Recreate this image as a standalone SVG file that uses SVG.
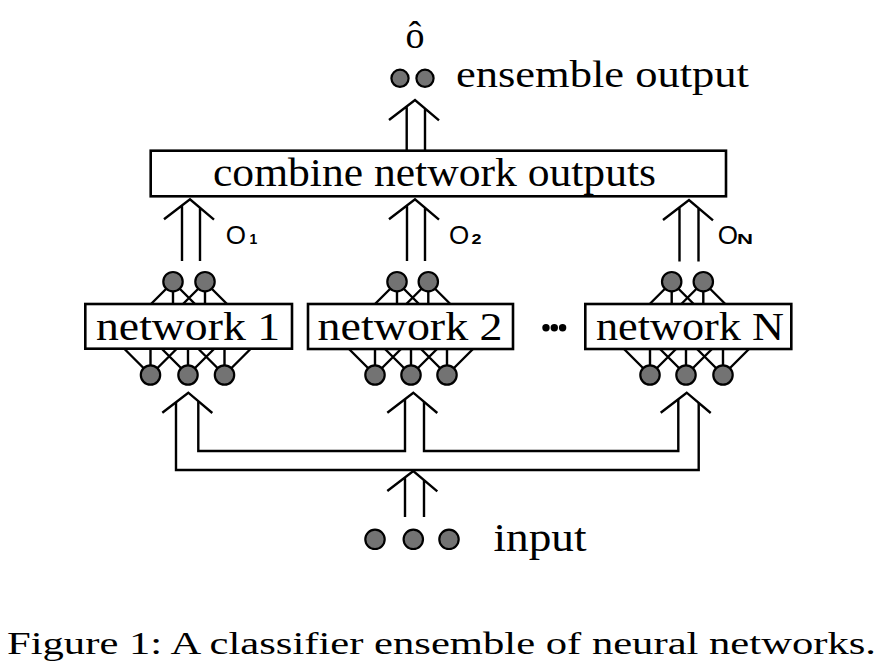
<svg xmlns="http://www.w3.org/2000/svg" width="883" height="663" viewBox="0 0 883 663">
<style>
.ln{stroke:#000;stroke-width:2.4;fill:none;stroke-linejoin:miter;stroke-linecap:butt}
.ed{stroke:#000;stroke-width:2.4;fill:none}
.box{fill:#fff;stroke:#000;stroke-width:2.6}
.nr{fill:#737373;stroke:#000;stroke-width:2.2}
.serif{font-family:"Liberation Serif","Times New Roman",serif;fill:#000}
.sans{font-family:"Liberation Sans",Arial,sans-serif;fill:#000}
.sub{font-family:"Liberation Sans",Arial,sans-serif;fill:#000;font-weight:bold;font-size:14px}
</style>
<rect width="883" height="663" fill="#fff"/>

<g id="connectors">
  <path class="ln" d="M406.7 150 V106.4 M425 150 V108.5 M389 120 L415 100 L439 120.3"/>
  <path class="ln" d="M182 261 V205.5 M200 261 V207.8 M164 219.3 L190 199.3 L214 219.6"/>
  <path class="ln" d="M407 261 V205.5 M425 261 V207.8 M389 219.3 L415 199.3 L439 219.6"/>
  <path class="ln" d="M679.5 261.5 V207.3 M698.5 261.5 V208 M663 220 L689 200 L713 220.3"/>
  <path class="ln" d="M176 402.2 V470 H698.7 V402.9"/>
  <path class="ln" d="M198.3 401.2 V451 H405 V399.1"/>
  <path class="ln" d="M424 401.8 V451 H678.3 V399.2"/>
  <path class="ln" d="M162.3 412.7 L188.3 392.7 L212.3 413"/>
  <path class="ln" d="M387.3 412.7 L413.3 392.7 L437.3 413"/>
  <path class="ln" d="M660.7 412.7 L686.7 392.7 L710.7 413"/>
  <path class="ln" d="M405 517 V477.4 M424 517 V480.1 M387.3 491 L413.3 471 L437.3 491.3"/>
</g>

<g id="ensemble-output">
  <text class="serif" x="415" y="48" font-size="38" text-anchor="middle">ô</text>
  <circle class="nr" cx="400" cy="78.3" r="8.6"/>
  <circle class="nr" cx="425" cy="78.3" r="8.6"/>
  <text class="serif" x="456" y="87" font-size="38" textLength="293" lengthAdjust="spacingAndGlyphs">ensemble output</text>
</g>

<g id="combine">
  <rect class="box" x="150.7" y="150.7" width="575.3" height="45.6"/>
  <text class="serif" x="213" y="186" font-size="39" textLength="443" lengthAdjust="spacingAndGlyphs">combine network outputs</text>
</g>

<g id="label-o1">
  <text class="sans" x="225.7" y="244" font-size="26">O</text>
  <text class="sub" x="249.5" y="244">1</text>
</g>
<g id="label-o2">
  <text class="sans" x="449" y="244" font-size="26">O</text>
  <text class="sub" x="471.5" y="244" textLength="10" lengthAdjust="spacingAndGlyphs">2</text>
</g>
<g id="label-on">
  <text class="sans" x="717.7" y="244" font-size="26">O</text>
  <text class="sub" x="737" y="244" textLength="16" lengthAdjust="spacingAndGlyphs">N</text>
</g>

<g id="network-1">
  <path class="ed" d="M173 282 L151 304 M173 282 V304 M173 282 L195 304 M205 282 L183 304 M205 282 V304 M205 282 L227 304"/>
  <path class="ed" d="M150.5 375 L124.5 349 M150.5 375 V349 M150.5 375 L176.5 349 M188 375 L162 349 M188 375 V349 M188 375 L214 349 M224.5 375 L198.5 349 M224.5 375 V349 M224.5 375 L250.5 349"/>
  <rect class="box" x="85.3" y="304" width="206.7" height="44.7"/>
  <text class="serif" x="96" y="340" font-size="41" textLength="184" lengthAdjust="spacingAndGlyphs">network 1</text>
  <circle class="nr" cx="173" cy="281.7" r="9.7"/>
  <circle class="nr" cx="205" cy="281.7" r="9.7"/>
  <circle class="nr" cx="150.5" cy="375" r="9.7"/>
  <circle class="nr" cx="188" cy="375" r="9.7"/>
  <circle class="nr" cx="224.5" cy="375" r="9.7"/>
</g>

<g id="network-2">
  <path class="ed" d="M397 282 L375 304 M397 282 V304 M397 282 L419 304 M428.3 282 L406.3 304 M428.3 282 V304 M428.3 282 L450.3 304"/>
  <path class="ed" d="M375 375 L349 349 M375 375 V349 M375 375 L401 349 M411 375 L385 349 M411 375 V349 M411 375 L437 349 M447 375 L421 349 M447 375 V349 M447 375 L473 349"/>
  <rect class="box" x="308" y="304" width="205" height="45"/>
  <text class="serif" x="317.6" y="340" font-size="41" textLength="185" lengthAdjust="spacingAndGlyphs">network 2</text>
  <circle class="nr" cx="397" cy="281.7" r="9.7"/>
  <circle class="nr" cx="428.3" cy="281.7" r="9.7"/>
  <circle class="nr" cx="375" cy="375" r="9.7"/>
  <circle class="nr" cx="411" cy="375" r="9.7"/>
  <circle class="nr" cx="447" cy="375" r="9.7"/>
</g>

<g id="ellipsis">
  <circle cx="546" cy="327.8" r="3.7" fill="#000"/>
  <circle cx="554.3" cy="327.8" r="3.7" fill="#000"/>
  <circle cx="562.6" cy="327.8" r="3.7" fill="#000"/>
</g>

<g id="network-n">
  <path class="ed" d="M671.7 282 L649.7 304 M671.7 282 V304 M671.7 282 L693.7 304 M703.3 282 L681.3 304 M703.3 282 V304 M703.3 282 L725.3 304"/>
  <path class="ed" d="M650 375 L624 349 M650 375 V349 M650 375 L676 349 M686 375 L660 349 M686 375 V349 M686 375 L712 349 M723 375 L697 349 M723 375 V349 M723 375 L749 349"/>
  <rect class="box" x="585.3" y="304" width="206" height="45"/>
  <text class="serif" x="596" y="340" font-size="41" textLength="188" lengthAdjust="spacingAndGlyphs">network N</text>
  <circle class="nr" cx="671.7" cy="281.7" r="9.7"/>
  <circle class="nr" cx="703.3" cy="281.7" r="9.7"/>
  <circle class="nr" cx="650" cy="375" r="9.7"/>
  <circle class="nr" cx="686" cy="375" r="9.7"/>
  <circle class="nr" cx="723" cy="375" r="9.7"/>
</g>

<g id="input">
  <circle class="nr" cx="375" cy="539.3" r="9.7"/>
  <circle class="nr" cx="413.3" cy="539.3" r="9.7"/>
  <circle class="nr" cx="449" cy="539.3" r="9.7"/>
  <text class="serif" x="493.5" y="551" font-size="41" textLength="93" lengthAdjust="spacingAndGlyphs">input</text>
</g>

<g id="caption">
  <text class="serif" x="7" y="654" font-size="32" textLength="869" lengthAdjust="spacingAndGlyphs">Figure 1: A classifier ensemble of neural networks.</text>
</g>
</svg>
